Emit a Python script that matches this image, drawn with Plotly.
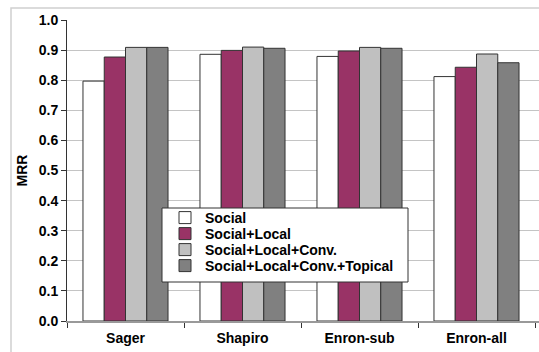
import plotly.graph_objects as go

categories = ["Sager", "Shapiro", "Enron-sub", "Enron-all"]
series_names = ["Social", "Social+Local", "Social+Local+Conv.", "Social+Local+Conv.+Topical"]
social = [0.797, 0.886, 0.879, 0.812]
social_local = [0.877, 0.899, 0.897, 0.843]
social_local_conv = [0.909, 0.910, 0.909, 0.887]
social_local_conv_topical = [0.909, 0.906, 0.906, 0.858]
colors = ["#ffffff", "#993366", "#c0c0c0", "#808080"]
y_ticks = [0.0, 0.1, 0.2, 0.3, 0.4, 0.5, 0.6, 0.7, 0.8, 0.9, 1.0]

W, H = 539, 352
L, R, T, B = 67, 0, 20, 31
pw, ph = W - L - R, H - T - B

font_family = "Liberation Sans, Arial, sans-serif"

def px_x(p):
    return (p - L) / pw

def px_y(p):
    return (H - B - p) / ph

legend_ids = ["legend", "legend2", "legend3", "legend4"]
legend_rows = [218, 234, 250, 266]

fig = go.Figure()
for name, vals, col, lid in zip(series_names,
                                [social, social_local, social_local_conv, social_local_conv_topical],
                                colors, legend_ids):
    fig.add_trace(go.Bar(x=categories, y=vals, name=name, legend=lid,
                         marker=dict(color=col, line=dict(color="#333333", width=1))))

legend_font = dict(family=font_family, size=14, color="#000000", weight="bold")
legends = {}
for lid, row in zip(legend_ids, legend_rows):
    legends[lid] = dict(x=px_x(165), y=px_y(row), xanchor="left", yanchor="middle",
                        bgcolor="rgba(0,0,0,0)", borderwidth=0, font=legend_font,
                        itemwidth=30)

cat_w = 117.0
x_end = -0.5 + pw / cat_w

fig.update_layout(
    width=W, height=H,
    margin=dict(l=L, r=R, t=T, b=B, pad=0),
    paper_bgcolor="white", plot_bgcolor="white",
    barmode="group", bargap=0.273, bargroupgap=0,
    font=dict(family=font_family, size=14, color="#000000"),
    showlegend=True,
    xaxis=dict(range=[-0.5, x_end], type="category", showgrid=False,
               showline=True, linecolor="#999999", linewidth=2,
               ticks="outside", tickson="boundaries", ticklen=5, tickcolor="#333333",
               ticklabelstandoff=3,
               tickfont=dict(family=font_family, size=14, color="#000000", weight="bold"),
               zeroline=False),
    yaxis=dict(range=[0, 1], tickvals=y_ticks, tickformat=".1f",
               showgrid=True, gridcolor="#c4c4c4", gridwidth=1,
               showline=True, linecolor="#333333", linewidth=1,
               ticks="outside", ticklen=5, tickcolor="#333333",
               tickfont=dict(family=font_family, size=14, color="#000000", weight="bold"),
               zeroline=False,
               title=dict(text="MRR", standoff=7,
                          font=dict(family=font_family, size=14, color="#000000", weight="bold"))),
    shapes=[
        dict(type="rect", xref="paper", yref="paper",
             x0=px_x(11), x1=px_x(560), y0=px_y(380), y1=px_y(8),
             line=dict(color="#d0d0d0", width=1.5), fillcolor="rgba(0,0,0,0)", layer="below"),
        dict(type="rect", xref="paper", yref="paper",
             x0=px_x(162), x1=px_x(408), y0=px_y(282), y1=px_y(208),
             line=dict(color="#333333", width=1), fillcolor="white", layer="above"),
    ],
    **legends,
)

fig.write_html("out.html")
